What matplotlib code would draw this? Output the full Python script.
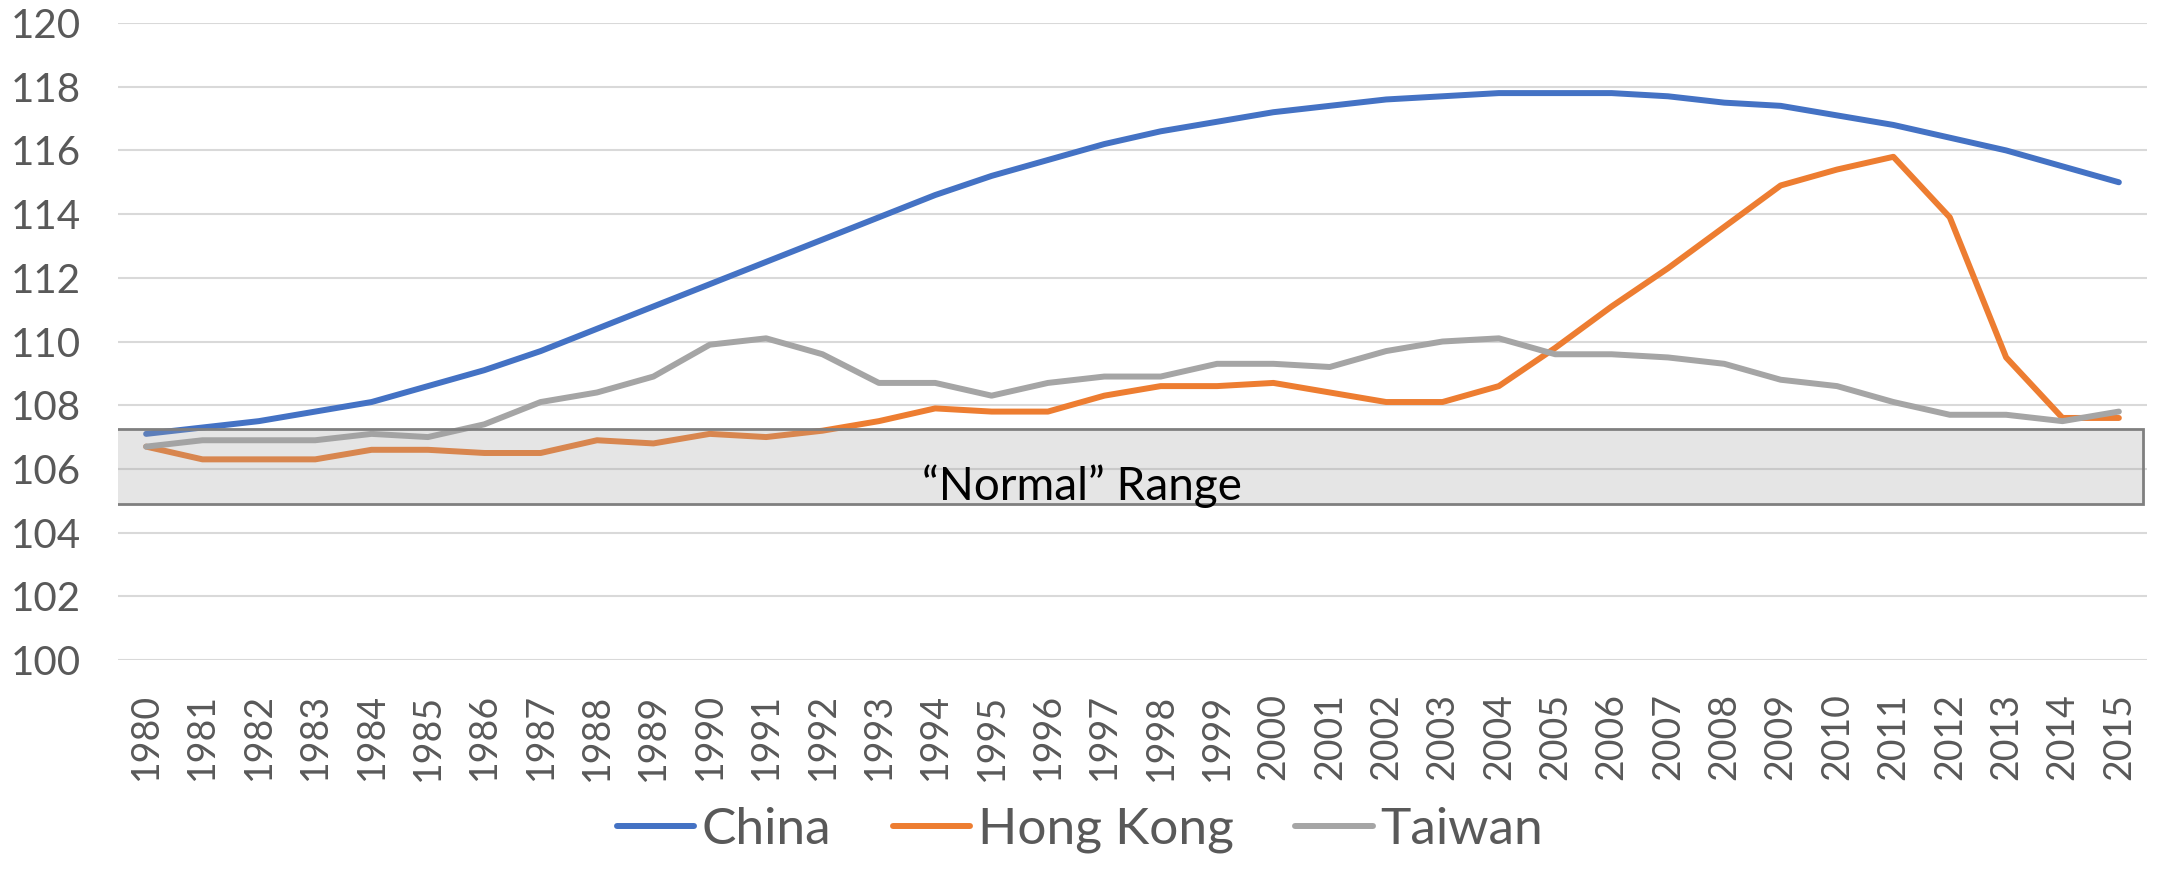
import matplotlib.pyplot as plt
from matplotlib.patches import Rectangle

plt.rcParams['font.family'] = ['Lato', 'DejaVu Sans']

years = list(range(1980, 2016))
china = [107.1, 107.3, 107.5, 107.8, 108.1, 108.6, 109.1, 109.7, 110.4, 111.1,
         111.8, 112.5, 113.2, 113.9, 114.6, 115.2, 115.7, 116.2, 116.6, 116.9,
         117.2, 117.4, 117.6, 117.7, 117.8, 117.8, 117.8, 117.7, 117.5, 117.4,
         117.1, 116.8, 116.4, 116.0, 115.5, 115.0]
hong_kong = [106.7, 106.3, 106.3, 106.3, 106.6, 106.6, 106.5, 106.5, 106.9, 106.8,
             107.1, 107.0, 107.2, 107.5, 107.9, 107.8, 107.8, 108.3, 108.6, 108.6,
             108.7, 108.4, 108.1, 108.1, 108.6, 109.8, 111.1, 112.3, 113.6, 114.9,
             115.4, 115.8, 113.9, 109.5, 107.6, 107.6]
taiwan = [106.7, 106.9, 106.9, 106.9, 107.1, 107.0, 107.4, 108.1, 108.4, 108.9,
          109.9, 110.1, 109.6, 108.7, 108.7, 108.3, 108.7, 108.9, 108.9, 109.3,
          109.3, 109.2, 109.7, 110.0, 110.1, 109.6, 109.6, 109.5, 109.3, 108.8,
          108.6, 108.1, 107.7, 107.7, 107.5, 107.8]
normal_low = 104.9
normal_high = 107.25

fig = plt.figure(figsize=(21.6, 8.69), dpi=100)
ax = fig.add_axes([0.0546, 0.2405, 0.9394, 0.733])

x = list(range(len(years)))
ax.plot(x, china, color='#4472C4', lw=4.3, label='China', solid_capstyle='round')
ax.plot(x, hong_kong, color='#ED7D31', lw=4.3, label='Hong Kong', solid_capstyle='round')
ax.plot(x, taiwan, color='#A5A5A5', lw=4.3, label='Taiwan', solid_capstyle='round')

# shaded "normal" band drawn on top of the lines
ax.add_patch(Rectangle((-0.55, normal_low), len(years) - 0.02, normal_high - normal_low,
                       facecolor='#a0a0a0', alpha=0.27, edgecolor='none', zorder=5))
ax.add_patch(Rectangle((-0.55, normal_low), len(years) - 0.02, normal_high - normal_low,
                       facecolor='none', edgecolor='#7f7f7f', lw=2.0, zorder=5))
ax.text(16.6, 105.45, '\u201cNormal\u201d Range', ha='center', va='center',
        fontsize=33, color='black', zorder=6)

ax.set_xlim(-0.5, len(years) - 0.5)
ax.set_ylim(100, 120)
ax.set_yticks(range(100, 121, 2))
ax.set_xticks(x)
ax.set_xticklabels(years, rotation=90)
ax.tick_params(axis='both', length=0, labelcolor='#595959')
ax.tick_params(axis='y', pad=27, labelsize=29)
ax.tick_params(axis='x', pad=24, labelsize=27)
ax.grid(axis='y', color='#d9d9d9', lw=1.5)
ax.set_axisbelow(True)
for s in ax.spines.values():
    s.set_visible(False)

fig.legend(loc='lower center', bbox_to_anchor=(0.5, -0.035), ncol=3, frameon=False,
           fontsize=37, handlelength=1.5, handletextpad=0.15, columnspacing=1.2,
           labelcolor='#595959')

plt.savefig('out.png', dpi=100)
